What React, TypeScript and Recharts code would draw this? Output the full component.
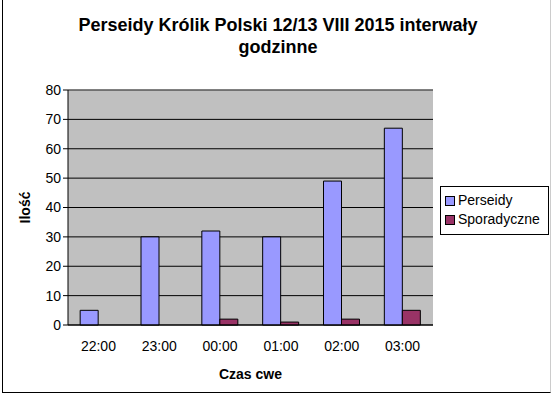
import React from "react";
import {
  BarChart,
  Bar,
  XAxis,
  YAxis,
  CartesianGrid,
  Legend,
  ReferenceLine,
} from "recharts";

const hours = ["22:00", "23:00", "00:00", "01:00", "02:00", "03:00"];
const perseidy = [5, 30, 32, 30, 49, 67];
const sporadyczne = [0, 0, 2, 1, 2, 5];
const yTicks = [0, 10, 20, 30, 40, 50, 60, 70, 80];
const boundaryTicks = [0, 1, 2, 3, 4, 5, 6];

const data = hours.map((h, i) => ({
  hour: h,
  perseidy: perseidy[i],
  sporadyczne: sporadyczne[i],
}));

const font = "Arial, 'Liberation Sans', sans-serif";

function LegendBox(props: any) {
  const items = props.payload || [];
  return (
    <div
      style={{
        width: 109,
        height: 49,
        border: "1px solid #000",
        background: "#fff",
        boxSizing: "border-box",
        padding: "4px 0 0 4px",
        fontSize: 14,
        fontFamily: font,
        lineHeight: "19px",
        whiteSpace: "nowrap",
        color: "#000",
      }}
    >
      {items.map((it: any) => (
        <div key={it.value} style={{ display: "flex", alignItems: "center" }}>
          <span
            style={{
              display: "inline-block",
              width: 8,
              height: 8,
              background: it.color,
              border: "1px solid #000",
              marginRight: 3,
            }}
          />
          {it.value}
        </div>
      ))}
    </div>
  );
}

export default function App() {
  return (
    <div
      style={{
        position: "absolute",
        left: 0,
        top: 0,
        width: 552,
        height: 396,
        background: "#fff",
        fontFamily: font,
      }}
    >
      <div
        style={{
          position: "absolute",
          left: 2,
          top: 0,
          width: 547,
          height: 392,
          borderLeft: "1px solid #000",
          borderBottom: "1px solid #000",
          borderRight: "1px solid #ccc",
        }}
      />
      <div
        style={{
          position: "absolute",
          left: 0,
          top: 14,
          width: 556,
          textAlign: "center",
          fontWeight: "bold",
          fontSize: 18,
          lineHeight: "22px",
          color: "#000",
        }}
      >
        Perseidy Królik Polski 12/13 VIII 2015 interwały
        <br />
        godzinne
      </div>
      <BarChart
        width={552}
        height={396}
        data={data}
        barCategoryGap="20%"
        barGap={0}
        margin={{ top: 90, right: 10, bottom: 41, left: 28 }}
        style={{ position: "absolute", left: 0, top: 0 }}
      >
        <CartesianGrid vertical={false} stroke="#000" fill="#C0C0C0" fillOpacity={1} />
        <XAxis
          xAxisId="edges"
          type="number"
          domain={[0, 6]}
          ticks={boundaryTicks}
          tick={false}
          height={0}
          axisLine={false}
          tickLine={{ stroke: "#000" }}
          tickSize={5}
        />
        <XAxis
          dataKey="hour"
          height={30}
          axisLine={{ stroke: "#000" }}
          tickLine={false}
          tick={{ fill: "#000", fontSize: 14, fontFamily: font }}
          tickMargin={10}
          label={{
            value: "Czas cwe",
            position: "insideBottom",
            offset: -24,
            fill: "#000",
            fontWeight: "bold",
            fontSize: 14,
            fontFamily: font,
          }}
        />
        <YAxis
          width={40}
          domain={[0, 80]}
          ticks={yTicks}
          interval={0}
          axisLine={{ stroke: "#000" }}
          tickLine={{ stroke: "#000" }}
          tickSize={5}
          tick={{ fill: "#000", fontSize: 14, fontFamily: font }}
          label={{
            value: "Ilość",
            angle: -90,
            position: "insideLeft",
            offset: 0,
            dx: -3,
            fill: "#000",
            fontWeight: "bold",
            fontSize: 14,
            fontFamily: font,
            style: { textAnchor: "middle" },
          }}
        />
        <ReferenceLine y={80} stroke="#808080" />
        <ReferenceLine xAxisId="edges" x={6} stroke="#808080" />
        <Legend
          layout="vertical"
          align="right"
          verticalAlign="middle"
          content={<LegendBox />}
          wrapperStyle={{ right: 3, top: 186, width: 109, height: 49 }}
        />
        <Bar
          dataKey="perseidy"
          name="Perseidy"
          fill="#9999FF"
          stroke="#000"
          strokeWidth={1}
          isAnimationActive={false}
        />
        <Bar
          dataKey="sporadyczne"
          name="Sporadyczne"
          fill="#993366"
          stroke="#000"
          strokeWidth={1}
          isAnimationActive={false}
        />
      </BarChart>
    </div>
  );
}
